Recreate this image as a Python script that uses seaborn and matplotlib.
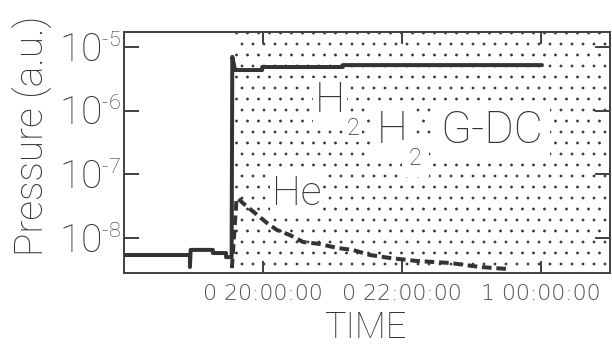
import matplotlib
matplotlib.use("Agg")
import matplotlib.pyplot as plt
import seaborn as sns
from matplotlib.ticker import NullLocator

try:
    import matplotlib._mathtext as _mt
    _mt.SHRINK_FACTOR = 0.55
except Exception:
    pass

# ---------------- data (time in hours, pressure in a.u.) ----------------
h2_time = [18.0, 18.95, 18.95, 18.96, 19.28, 19.28, 19.47, 19.47, 19.55,
           19.56, 19.60, 19.99, 19.99, 21.15, 21.15, 24.02]
h2_pressure = [5.4e-9, 5.4e-9, 3.5e-9, 6.5e-9, 6.5e-9, 5.8e-9, 5.8e-9, 5.0e-9, 5.0e-9,
               7.0e-6, 4.35e-6, 4.35e-6, 4.85e-6, 4.85e-6, 5.2e-6, 5.2e-6]

he_time = [19.54, 19.62, 19.64, 19.71, 19.92, 20.06, 20.20, 20.39, 20.58, 20.82,
           21.07, 21.30, 21.54, 21.83, 22.22, 22.70, 23.13, 23.52]
he_pressure = [2.0e-9, 4.0e-8, 4.25e-8, 3.55e-8, 2.30e-8, 1.72e-8, 1.34e-8, 1.11e-8,
               8.65e-9, 8.05e-9, 6.97e-9, 6.48e-9, 5.41e-9, 4.85e-9, 4.35e-9,
               4.05e-9, 3.5e-9, 3.26e-9]

plasma_start = 19.57
x_limits = (18.0, 25.0)
y_limits = (10 ** -8.55, 10 ** -4.764)
x_ticks = [20, 22, 24]
x_tick_labels = ["0 20:00:00", "0 22:00:00", "1 00:00:00"]
y_ticks = [1e-5, 1e-6, 1e-7, 1e-8]
y_tick_labels = [r"$\mathregular{10^{\text{-}5}}$", r"$\mathregular{10^{\text{-}6}}$",
                 r"$\mathregular{10^{\text{-}7}}$", r"$\mathregular{10^{\text{-}8}}$"]

# ---------------- style ----------------
sns.set_style("ticks")
DPI = 66
PT = 72.0 / DPI  # points per pixel
plt.rcParams["font.family"] = ["Roboto", "Liberation Sans", "DejaVu Sans"]
plt.rcParams["font.weight"] = "light"
plt.rcParams["axes.labelweight"] = "light"
plt.rcParams["mathtext.fontset"] = "custom"
plt.rcParams["mathtext.rm"] = "Roboto:light"
plt.rcParams["hatch.linewidth"] = 0.6
plt.rcParams["hatch.color"] = "#333333"

INK = "#333333"
FRAME = "#444444"

fig = plt.figure(figsize=(612 / DPI, 345 / DPI), dpi=DPI)
fig.patch.set_facecolor("white")
ax = fig.add_axes([124 / 612, 72 / 345, 486 / 612, 241 / 345])
ax.set_facecolor("white")

# dotted (plasma) region
ax.axvspan(plasma_start, x_limits[1], facecolor="white", edgecolor=INK,
           hatch=".", linewidth=0, zorder=0.5)

sns.lineplot(x=h2_time, y=h2_pressure, ax=ax, color=INK, linewidth=4 * PT,
             estimator=None, sort=False, zorder=3)
sns.lineplot(x=he_time, y=he_pressure, ax=ax, color=INK, linewidth=4 * PT,
             estimator=None, sort=False, linestyle=(0, (2.4, 1.2)), zorder=3)

ax.set_yscale("log")
ax.set_xlim(*x_limits)
ax.set_ylim(*y_limits)
ax.set_xticks(x_ticks, x_tick_labels)
ax.set_yticks(y_ticks, y_tick_labels)
ax.yaxis.set_minor_locator(NullLocator())
ax.xaxis.set_minor_locator(NullLocator())

for s in ax.spines.values():
    s.set_visible(True)
    s.set_linewidth(2 * PT)
    s.set_color(FRAME)

ax.tick_params(axis="both", direction="in", top=True, right=True,
               width=2 * PT, color=FRAME, labelcolor=INK)
ax.tick_params(axis="y", length=15 * PT, pad=3 * PT, labelsize=39 * PT)
ax.tick_params(axis="x", length=12 * PT, pad=11 * PT, labelsize=22 * PT)
for lbl in ax.get_xticklabels():
    lbl.set_fontfamily(["DejaVu Sans"])
    lbl.set_color("#4a4a4a")

ax.set_xlabel("TIME", fontsize=36 * PT, color=INK, fontweight="light")
ax.xaxis.set_label_coords((365 - 124) / 486, (273 - 338) / 241)
ax.xaxis.label.set_va("baseline")

ax.set_ylabel("Pressure (a.u.)", fontsize=39 * PT, color=INK, fontweight="light")
ax.yaxis.set_label_coords((43 - 124) / 486, (273 - 136) / 241)
ax.yaxis.label.set_va("baseline")


def ftext(px, py, s, size, pad=2):
    fig.text(px / 612, 1 - py / 345, s, fontsize=size * PT, color=INK,
             ha="left", va="baseline", zorder=5, fontweight="light",
             bbox=dict(facecolor="white", edgecolor="none", pad=pad))


ftext(315, 112, "H", 43)
ftext(347, 135, "2", 23)
ftext(377, 143, "H", 44, pad=8)
ftext(409, 165, "2", 23, pad=8)
ftext(440, 143, "G-DC", 45, pad=8)
ftext(272, 205, "He", 41)

fig.savefig("out.png", dpi=DPI, facecolor="white")
